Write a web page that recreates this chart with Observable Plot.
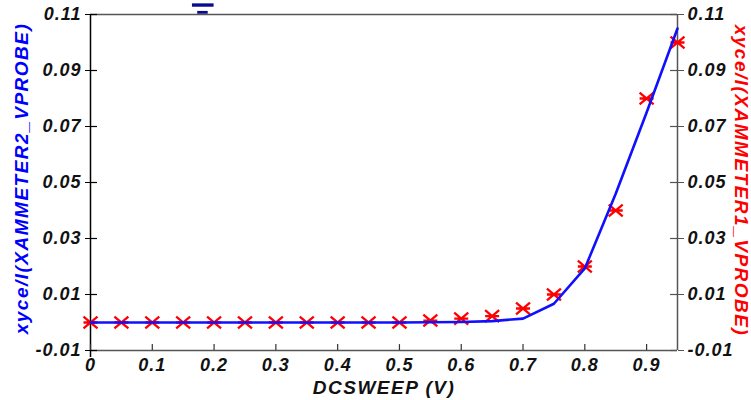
<!DOCTYPE html>
<html>
<head>
<meta charset="utf-8">
<script src="https://cdn.jsdelivr.net/npm/d3@7"></script>
<script src="https://cdn.jsdelivr.net/npm/@observablehq/plot@0.6"></script>
<style>
  html, body { margin: 0; padding: 0; background: #fff; }
  #chart svg g[aria-label="text"] text { letter-spacing: 1.5px; }
  #chart svg g[aria-label="y-axis tick label"] text,
  #chart svg g[aria-label="x-axis tick label"] text { letter-spacing: 1px; }
</style>
</head>
<body>
<div id="chart"></div>
<script>
// ---- data ----
const sweepX   = [0, 0.05, 0.1, 0.15, 0.2, 0.25, 0.3, 0.35, 0.4, 0.45, 0.5, 0.55, 0.6, 0.65, 0.7, 0.75, 0.8, 0.85, 0.9, 0.95];
const ammeter2 = [0, 0, 0, 0, 0, 0, 0, 0, 0, 0, 0, 0.0001, 0.0002, 0.0005, 0.0014, 0.0067, 0.0193, 0.046, 0.075, 0.105];
const ammeter1 = [0, 0, 0, 0, 0, 0, 0, 0, 0, 0, 0, 0.0007, 0.0014, 0.0023, 0.005, 0.01, 0.02, 0.04, 0.08, 0.1];
const xTicks = [0, 0.1, 0.2, 0.3, 0.4, 0.5, 0.6, 0.7, 0.8, 0.9];
const yTicks = [-0.01, 0.01, 0.03, 0.05, 0.07, 0.09, 0.11];
const xTitle = "DCSWEEP (V)";
const leftTitle = "xyce/I(XAMMETER2_VPROBE)";
const rightTitle = "xyce/I(XAMMETER1_VPROBE)";
// clipped legend glyph at the top
const legendBars = [
  {x1: 0.165, x2: 0.2, y1: 0.1126, y2: 0.1138},
  {x1: 0.1735, x2: 0.1905, y1: 0.1101, y2: 0.1111}
];

const line2 = sweepX.map((x, i) => ({x, y: ammeter2[i]}));
const pts1 = sweepX.map((x, i) => ({x, y: ammeter1[i]}));

const asterisk = {
  draw(ctx, size) {
    const r = Math.sqrt(size / Math.PI);
    const w = r, h = r * 0.85;
    ctx.moveTo(-w, -h); ctx.lineTo(w, h);
    ctx.moveTo(-w, h); ctx.lineTo(w, -h);
    ctx.moveTo(-w, 0); ctx.lineTo(w, 0);
  }
};

const xMin = 0, xMax = 0.95, yMin = -0.01, yMax = 0.11;
const yFmt = d => d.toFixed(2);
const xFmt = d => d === 0 ? "0" : d.toFixed(1);

const chart = Plot.plot({
  width: 751,
  height: 400,
  marginLeft: 90,
  marginRight: 74,
  marginTop: 14,
  marginBottom: 50,
  style: {fontFamily: "'Liberation Sans', Arial, sans-serif", fontSize: "18px", fontWeight: "bold", fontStyle: "italic", color: "#111", background: "#fff"},
  x: {domain: [xMin, xMax], axis: null},
  y: {domain: [yMin, yMax], axis: null},
  marks: [
    // frame
    Plot.ruleY([yMax], {stroke: "#555", strokeWidth: 1.5}),
    Plot.ruleY([yMin], {stroke: "#555", strokeWidth: 1.5}),
    Plot.ruleX([xMax], {stroke: "#555", strokeWidth: 1.5}),
    Plot.ruleX([xMin], {y1: yMin - 0.0025, y2: yMax, stroke: "#000", strokeWidth: 1.5}),
    // axes
    Plot.axisY({anchor: "left", ticks: yTicks, tickFormat: yFmt, tickSize: 5, tickPadding: 4, stroke: "#000", fill: "#111", label: null}),
    Plot.axisY({anchor: "right", ticks: yTicks, tickFormat: yFmt, tickSize: 6, tickPadding: 4, stroke: "#555", fill: "#111", label: null}),
    Plot.axisX({anchor: "bottom", ticks: xTicks, tickFormat: xFmt, tickSize: 0, tickPadding: 8, fill: "#111", label: null}),
    // inward tick parts
    Plot.ruleY(yTicks, {x1: xMin, x2: xMin + 0.0113, stroke: "#000", strokeWidth: 1.2}),
    Plot.ruleY(yTicks, {x1: xMax - 0.0113, x2: xMax, stroke: "#555", strokeWidth: 1.2}),
    Plot.ruleX(xTicks, {y1: yMin, y2: yMin + 0.0021, stroke: "#333", strokeWidth: 1.2}),
    // legend glyph
    Plot.rect(legendBars, {x1: "x1", x2: "x2", y1: "y1", y2: "y2", fill: "#0a0a8c"}),
    // data
    Plot.dot(pts1, {x: "x", y: "y", symbol: asterisk, r: 7, stroke: "#ff0000", strokeWidth: 2.3, fill: "none"}),
    Plot.line(line2, {x: "x", y: "y", stroke: "#1010ff", strokeWidth: 2.6}),
    // titles
    Plot.text([xTitle], {text: d => d, frameAnchor: "bottom", dy: 37, fill: "#111", fontSize: 19, textAnchor: "middle", lineAnchor: "middle"}),
    Plot.text([leftTitle], {text: d => d, frameAnchor: "left", dx: -69, dy: -4, rotate: -90, fill: "#0000ff", fontSize: 19, textAnchor: "middle", lineAnchor: "middle"}),
    Plot.text([rightTitle], {text: d => d, frameAnchor: "right", dx: 64, dy: -2, rotate: 90, fill: "#ff0000", fontSize: 19, textAnchor: "middle", lineAnchor: "middle"})
  ]
});
document.getElementById("chart").appendChild(chart);
</script>
</body>
</html>
